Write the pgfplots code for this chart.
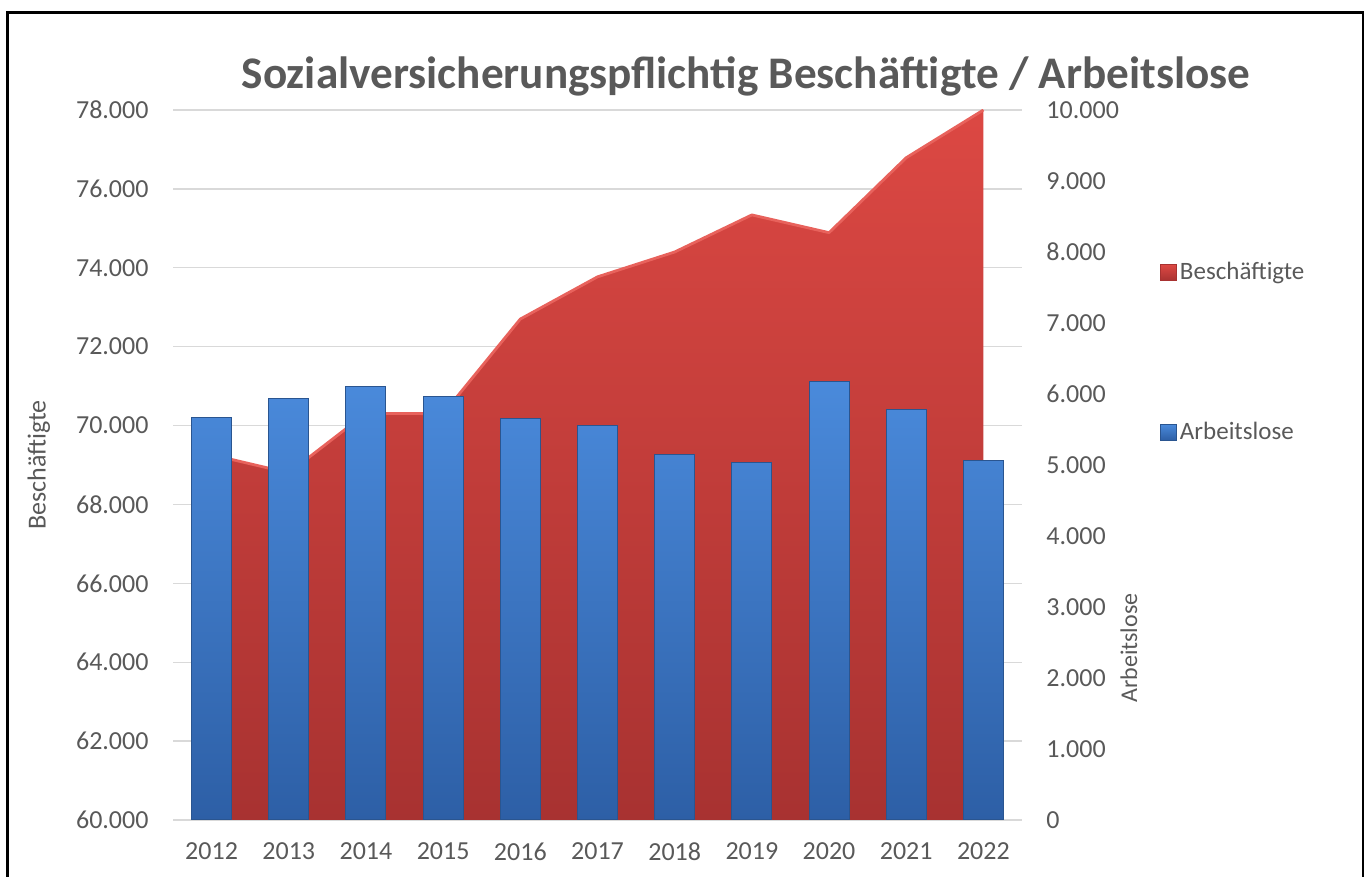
\documentclass[border=0pt]{standalone}
\usepackage{fontspec}
\setmainfont{Carlito}
\usepackage{pgfplots}
\pgfplotsset{compat=1.18}
\usepackage{pgfplotstable}
\definecolor{txt}{HTML}{595959}
\definecolor{gridc}{HTML}{D9D9D9}
\definecolor{redtop}{HTML}{DC4843}
\definecolor{redbot}{HTML}{A83231}
\definecolor{redline}{HTML}{E8625C}
\definecolor{bluetop}{HTML}{4A8ADB}
\definecolor{bluebot}{HTML}{2D5FA6}
\definecolor{blueedge}{HTML}{2A5590}

\pgfplotstableread{
x year besch arbl
0 2012 69260 5670
1 2013 68800 5930
2 2014 70310 6100
3 2015 70300 5960
4 2016 72700 5650
5 2017 73770 5550
6 2018 74400 5150
7 2019 75340 5040
8 2020 74890 6170
9 2021 76790 5780
10 2022 78000 5070
}\data

\begin{document}
\begin{tikzpicture}[x=1pt,y=1pt]
\path[use as bounding box] (0,0) rectangle (685.5,438.5);
\draw[line width=1.25pt] (3.75,0) -- (3.75,432.25) -- (681.5,432.25) -- (681.5,0);

\begin{axis}[
  at={(86.5pt,28.5pt)}, anchor=south west, scale only axis,
  width=424.5pt, height=355pt,
  xmin=-0.5, xmax=10.5, ymin=60000, ymax=78000,
  xtick={0,...,10},
  xticklabels={2012,2013,2014,2015,2016,2017,2018,2019,2020,2021,2022},
  ytick={60000,62000,...,78000},
  ymajorgrids, grid style={gridc, line width=0.7pt},
  axis line style={draw=none}, major tick length=0pt,
  scaled y ticks=false,
  /pgf/number format/.cd, 1000 sep={.}, assume math mode=true, /pgfplots/.cd,
  tick label style={font=\fontsize{13}{15}\selectfont, text=txt},
  yticklabel style={xshift=-8.7pt},
  xticklabel style={yshift=-8pt},
  ylabel={Beschäftigte},
  ylabel style={at={(axis description cs:-0.158,0.5)}, anchor=center, font=\fontsize{13}{15}\selectfont, text=txt},
]
\addplot[draw=none, top color=redtop, bottom color=redbot] table[x=x,y=besch]{\data} \closedcycle;
\addplot[redline, line width=1.4pt, line join=round] table[x=x,y=besch]{\data};
\end{axis}

\begin{axis}[
  at={(86.5pt,28.5pt)}, anchor=south west, scale only axis,
  width=424.5pt, height=355pt,
  xmin=-0.5, xmax=10.5, ymin=0, ymax=10000,
  xtick=\empty,
  ytick={0,1000,...,10000},
  yticklabel pos=right,
  axis line style={draw=none}, major tick length=0pt,
  scaled y ticks=false,
  /pgf/number format/.cd, 1000 sep={.}, assume math mode=true, /pgfplots/.cd,
  tick label style={font=\fontsize{13}{15}\selectfont, text=txt},
  yticklabel style={anchor=west, xshift=8.7pt},
  ylabel={Arbeitslose},
  ylabel style={at={(axis description cs:1.126,0.242)}, anchor=center, rotate=0, font=\fontsize{12}{14}\selectfont, text=txt},
  legend style={at={(axis description cs:1.1625,0.6585)}, anchor=west, draw=none, fill=none,
     font=\fontsize{12.5}{15}\selectfont, text=txt, row sep=66.5pt, inner sep=0pt,
     nodes={inner sep=1.5pt}},
  legend cell align=left,
]
\addlegendimage{legend image code/.code={\path[top color=redtop, bottom color=redbot, draw=redbot, line width=0.3pt] (0pt,-4pt) rectangle (8pt,4pt);}}
\addlegendentry{Beschäftigte}
\addlegendimage{legend image code/.code={\path[top color=bluetop, bottom color=bluebot, draw=blueedge, line width=0.3pt] (0pt,-4pt) rectangle (8pt,4pt);}}
\addlegendentry{Arbeitslose}
\addplot[ybar, bar width=20pt, bar shift=0pt, forget plot, top color=bluetop, bottom color=bluebot, draw=blueedge, line width=0.5pt] table[x=x,y=arbl]{\data};
\end{axis}

\node[font=\bfseries\fontsize{22.6}{26}\selectfont, text=txt, anchor=base] at (373,394) {Sozialversicherungspflichtig Beschäftigte / Arbeitslose};
\end{tikzpicture}
\end{document}
